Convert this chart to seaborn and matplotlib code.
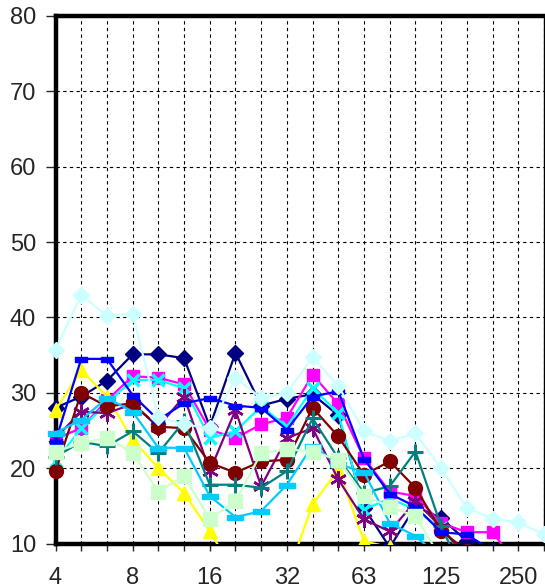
import numpy as np
import pandas as pd
import matplotlib
matplotlib.use("Agg")
import matplotlib.pyplot as plt
from matplotlib.patches import Rectangle
import seaborn as sns

# third-octave band centres (Hz), only every third one gets a label
bands = ["4", "5", "6.3", "8", "10", "12.5", "16", "20", "25", "32",
         "40", "50", "63", "80", "100", "125", "160", "200", "250", "315"]

navy_d = [28.0, 29.5, 31.6, 35.1, 35.1, 34.6, 25.5, 35.3, 28.3, 29.2,
          29.8, 27.0, 14.7, 9.5, 14.9, 13.4, 10.3, 9.0]
magenta_s = [23.9, 25.3, 29.0, 32.2, 32.0, 31.1, 25.1, 24.0, 25.8, 26.7,
             32.4, 28.5, 21.3, 16.9, 16.3, 12.7, 11.5, 11.5, 7.0]
yellow_t = [27.7, 33.0, 29.5, 23.8, 20.0, 16.7, 11.6, 6.0, 4.0, 5.6,
            15.2, 19.8, 10.3, 9.5, 8.0]
cyan_x = [20.9, 25.3, 28.6, 31.7, 31.7, 30.6, 24.0, 24.9, 28.2, 25.5,
          30.6, 27.3, 14.5, 16.0, 14.5, 12.0, 8.0]
purple_a = [24.0, 27.5, 27.3, 28.5, 25.5, 29.5, 19.6, 27.7, 17.6, 24.0,
            25.3, 18.5, 13.2, 11.6, 15.6, 12.2, 8.0]
maroon_o = [19.6, 30.0, 28.2, 28.6, 25.5, 25.3, 20.7, 19.4, 20.9, 21.1,
            28.0, 24.2, 19.1, 20.9, 17.4, 11.7, 9.0]
teal_p = [21.5, 23.5, 22.9, 24.9, 22.0, 26.2, 17.8, 17.8, 17.4, 19.6,
          26.6, 21.3, 16.7, 17.6, 22.2, 12.3, 5.0]
blue_d = [23.6, 34.5, 34.5, 29.7, 26.4, 28.6, 29.3, 28.3, 28.0, 25.1,
          29.5, 30.2, 21.2, 16.6, 14.9, 11.5, 11.2, 9.0]
sky_d = [24.7, 26.4, 29.3, 27.5, 22.7, 22.7, 16.3, 13.5, 14.3, 17.8,
         23.0, 20.5, 19.5, 12.7, 11.0, 8.0]
ltcyan_d = [35.7, 43.0, 40.2, 40.5, 26.8, 25.8, 25.3, 32.0, 29.3, 30.0,
            34.7, 30.9, 24.9, 23.6, 24.6, 20.0, 14.7, 13.3, 12.8, 11.2]
ltgreen_s = [22.2, 23.3, 24.0, 22.0, 16.9, 18.9, 13.3, 15.6, 22.0, 22.5,
             22.2, 21.1, 16.3, 14.9, 13.6, 8.0]

bar_s = [(-1, -0.45), (1, -0.45), (1, 0.45), (-1, 0.45), (-1, -0.45)]
bar_l = [(-1, -0.3), (1, -0.3), (1, 0.3), (-1, 0.3), (-1, -0.3)]

series = [
    (navy_d, "#000080", "D", 8, 1),
    (magenta_s, "#FF00FF", "s", 9, 1),
    (yellow_t, "#FFFF00", "^", 10, 1),
    (cyan_x, "#00FFFF", "x", 9, 2.5),
    (purple_a, "#800080", (6, 2, 0), 12, 1.8),
    (maroon_o, "#800000", "o", 10, 1),
    (teal_p, "#008080", "+", 11, 2.2),
    (blue_d, "#0000FF", bar_s, 8, 1),
    (sky_d, "#00CCFF", bar_l, 12, 1),
    (ltcyan_d, "#CCFFFF", "D", 8, 1),
    (ltgreen_s, "#CCFFCC", "s", 10, 1),
]

sns.set_style("white")
plt.rcParams["font.family"] = ["Liberation Sans", "DejaVu Sans"]

fig = plt.figure(figsize=(5.45, 5.88), dpi=100)
ax = fig.add_axes([55.5 / 545, 44.5 / 588, (544 - 55.5) / 545, (543.5 - 16) / 588])

for k, (vals, col, mk, ms, mew) in enumerate(series):
    df = pd.DataFrame({"band": np.arange(len(vals)), "level": vals})
    sns.lineplot(data=df, x="band", y="level", ax=ax, color=col, marker=mk,
                 markersize=ms, markeredgewidth=mew, markeredgecolor=col,
                 linewidth=1.6, zorder=3 + k * 0.01)

# clip only at top/bottom so the end markers stay whole, like Excel
for line in ax.lines:
    line.set_clip_path(Rectangle((-0.1, 0), 1.2, 1, transform=ax.transAxes))

ax.set_xlim(0, 19)
ax.set_ylim(10, 80)
ax.set_yticks(range(10, 81, 10))
ax.set_xticks(range(len(bands)))
ax.set_xticklabels([b if i % 3 == 0 else "" for i, b in enumerate(bands)])
ax.set_xlabel("")
ax.set_ylabel("")

ax.grid(True, color="black", linestyle=(0, (3, 3)), linewidth=0.8)
ax.set_axisbelow(True)

for side in ["left", "top", "bottom"]:
    ax.spines[side].set_linewidth(3.2)
    ax.spines[side].set_color("black")
ax.spines["right"].set_linewidth(1.0)
ax.spines["right"].set_color("black")

ax.tick_params(axis="y", direction="out", length=7, width=1, pad=7,
               labelsize=17, left=True)
ax.tick_params(axis="x", direction="out", length=5, width=1, pad=12,
               labelsize=17, bottom=True)

fig.savefig("out.png", dpi=100)
